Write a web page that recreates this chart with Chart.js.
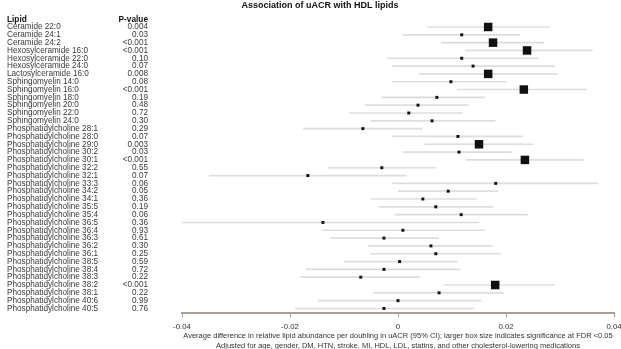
<!DOCTYPE html>
<html>
<head>
<meta charset="utf-8">
<script src="https://cdn.jsdelivr.net/npm/chart.js@4.4.0/dist/chart.umd.min.js"></script>
<style>
html, body { margin: 0; padding: 0; background: #fff; }
#wrap { width: 621px; height: 349px; position: relative; }
</style>
</head>
<body>
<div id="wrap"><canvas id="forest_chart"></canvas></div>
<script>
// rows, top to bottom
var lipids = [
    'Ceramide 22:0', 'Ceramide 24:1', 'Ceramide 24:2',
    'Hexosylceramide 16:0', 'Hexosylceramide 22:0', 'Hexosylceramide 24:0',
    'Lactosylceramide 16:0',
    'Sphingomyelin 14:0', 'Sphingomyelin 16:0', 'Sphingomyelin 18:0', 'Sphingomyelin 20:0',
    'Sphingomyelin 22:0', 'Sphingomyelin 24:0',
    'Phosphatidylcholine 28:1', 'Phosphatidylcholine 28:0', 'Phosphatidylcholine 29:0',
    'Phosphatidylcholine 30:2', 'Phosphatidylcholine 30:1', 'Phosphatidylcholine 32:2',
    'Phosphatidylcholine 32:1', 'Phosphatidylcholine 33:3', 'Phosphatidylcholine 34:2',
    'Phosphatidylcholine 34:1', 'Phosphatidylcholine 35:5', 'Phosphatidylcholine 35:4',
    'Phosphatidylcholine 36:5', 'Phosphatidylcholine 36:4', 'Phosphatidylcholine 36:3',
    'Phosphatidylcholine 36:2', 'Phosphatidylcholine 36:1', 'Phosphatidylcholine 38:5',
    'Phosphatidylcholine 38:4', 'Phosphatidylcholine 38:3', 'Phosphatidylcholine 38:2',
    'Phosphatidylcholine 38:1', 'Phosphatidylcholine 40:6', 'Phosphatidylcholine 40:5'
];
var pvalues = [
    '0.004', '0.03', '<0.001', '<0.001', '0.10', '0.07', '0.008', '0.08', '<0.001', '0.19',
    '0.48', '0.72', '0.30', '0.29', '0.07', '0.003', '0.03', '<0.001', '0.55', '0.07',
    '0.06', '0.05', '0.36', '0.19', '0.06', '0.36', '0.93', '0.61', '0.30', '0.25',
    '0.59', '0.72', '0.22', '<0.001', '0.22', '0.99', '0.76'
];
var estimates = [
    0.0167, 0.0118, 0.0176, 0.0239, 0.0118, 0.0139, 0.0167, 0.0098, 0.0233, 0.0072,
    0.0037, 0.0020, 0.0063, -0.0065, 0.0111, 0.0150, 0.0113, 0.0235, -0.0030, -0.0167,
    0.0181, 0.0093, 0.0046, 0.0070, 0.0117, -0.0139, 0.0009, -0.0026, 0.0061, 0.0070,
    0.0003, -0.0026, -0.0069, 0.0180, 0.0076, 0.0000, -0.0026
];
var ciLow = [
    0.0055, 0.0010, 0.0080, 0.0125, -0.0020, -0.0010, 0.0040, -0.0010, 0.0110, -0.0030,
    -0.0060, -0.0090, -0.0050, -0.0175, -0.0010, 0.0050, 0.0010, 0.0126, -0.0130, -0.0350,
    -0.0010, 0.0000, -0.0050, -0.0035, -0.0005, -0.0400, -0.0140, -0.0125, -0.0055, -0.0050,
    -0.0100, -0.0170, -0.0180, 0.0085, -0.0045, -0.0148, -0.0190
];
var ciHigh = [
    0.0280, 0.0225, 0.0270, 0.0360, 0.0260, 0.0290, 0.0295, 0.0200, 0.0350, 0.0160,
    0.0130, 0.0120, 0.0180, 0.0045, 0.0230, 0.0250, 0.0210, 0.0343, 0.0070, 0.0015,
    0.0370, 0.0186, 0.0145, 0.0175, 0.0240, 0.0150, 0.0160, 0.0075, 0.0175, 0.0190,
    0.0110, 0.0115, 0.0040, 0.0290, 0.0195, 0.0154, 0.0140
];
// significant at FDR < 0.05 -> larger box
var significant = [
    1, 0, 1, 1, 0, 0, 1, 0, 1, 0,
    0, 0, 0, 0, 0, 1, 0, 1, 0, 0,
    0, 0, 0, 0, 0, 0, 0, 0, 0, 0,
    0, 0, 0, 1, 0, 0, 0
];
var xTicks = [-0.04, -0.02, 0, 0.02, 0.04];
var xTickLabels = ['-0.04', '-0.02', '0', '0.02', '0.04'];
var chartTitle = 'Association of uACR with HDL lipids';
var xTitle = [
    'Average difference in relative lipid abundance per doubling in uACR (95% CI); larger box size indicates significance at FDR <0.05',
    'Adjusted for age, gender, DM, HTN, stroke, MI, HDL, LDL, statins, and other cholesterol-lowering medications'
];

var FONT = '"Liberation Sans", Arial, sans-serif';

var ciData = lipids.map(function(name, i){
    return {y: i, x: [ciLow[i], ciHigh[i]]};
});
var pointData = lipids.map(function(name, i){
    return {y: i, x: estimates[i]};
});

// left table + title, placed on the rows of the y scale
var textColumns = {
    id: 'textColumns',
    afterDraw: function(chart){
        var ctx = chart.ctx;
        var yScale = chart.scales.y;
        ctx.save();
        ctx.textBaseline = 'middle';
        ctx.fillStyle = '#111';
        ctx.font = 'bold 9px ' + FONT;
        ctx.textAlign = 'center';
        ctx.fillText(chartTitle, 320, 6);

        var headY = yScale.getPixelForValue(-0.95);
        ctx.font = 'bold 8.3px ' + FONT;
        ctx.textAlign = 'left';
        ctx.fillText('Lipid', 7, headY);
        ctx.textAlign = 'right';
        ctx.fillText('P-value', 148, headY);

        ctx.font = '8.2px ' + FONT;
        ctx.fillStyle = '#3a3a3a';
        for (var i = 0; i < lipids.length; i++) {
            var y = yScale.getPixelForValue(i);
            ctx.textAlign = 'left';
            ctx.fillText(lipids[i], 7, y);
            ctx.textAlign = 'right';
            ctx.fillText(pvalues[i], 148, y);
        }
        ctx.restore();
    }
};

var ctx = document.getElementById('forest_chart').getContext('2d');
var forest_chart = new Chart(ctx, {
    type: 'bar',
    data: {
        datasets: [{
            type: 'bar',
            data: ciData,
            backgroundColor: '#e0dcda',
            borderWidth: 0,
            barThickness: 1,
            order: 2,
        },{
            type: 'scatter',
            data: pointData,
            pointStyle: 'rect',
            pointRadius: significant.map(function(s){ return s ? 6 : 2.1; }),
            backgroundColor: '#111',
            borderWidth: 0,
            order: 1,
        }]
    },
    options: {
        indexAxis: 'y',
        responsive: true,
        maintainAspectRatio: false,
        animation: false,
        events: [],
        layout: {
            autoPadding: false,
            padding: {left: 182, right: 7, top: 18, bottom: 0}
        },
        plugins: {
            legend: {display: false},
            tooltip: {enabled: false},
            title: {display: false}
        },
        scales: {
            x: {
                type: 'linear',
                min: -0.04,
                max: 0.04,
                afterBuildTicks: function(scale){
                    scale.ticks = xTicks.map(function(v){ return {value: v}; });
                },
                afterFit: function(scale){
                    scale.height = 36;
                    // the last label may run off the right edge, as in the original
                    scale.paddingLeft = 0;
                    scale.paddingRight = 0;
                },
                border: {display: true, color: '#a59e99', width: 2},
                grid: {drawOnChartArea: false, drawTicks: true, tickLength: 4, color: '#a59e99'},
                ticks: {
                    padding: 5,
                    color: '#333',
                    font: {family: FONT, size: 7.8},
                    maxRotation: 0,
                    callback: function(value, index){ return xTickLabels[index]; }
                },
                title: {
                    display: true,
                    text: xTitle,
                    color: '#333',
                    font: {family: FONT, size: 7.5, lineHeight: 1.33},
                    padding: {top: 0, bottom: -2}
                }
            },
            y: {
                type: 'linear',
                reverse: true,
                offset: false,
                min: -1.15,
                max: 36.58,
                display: false
            }
        }
    },
    plugins: [textColumns]
});
</script>
</body>
</html>
